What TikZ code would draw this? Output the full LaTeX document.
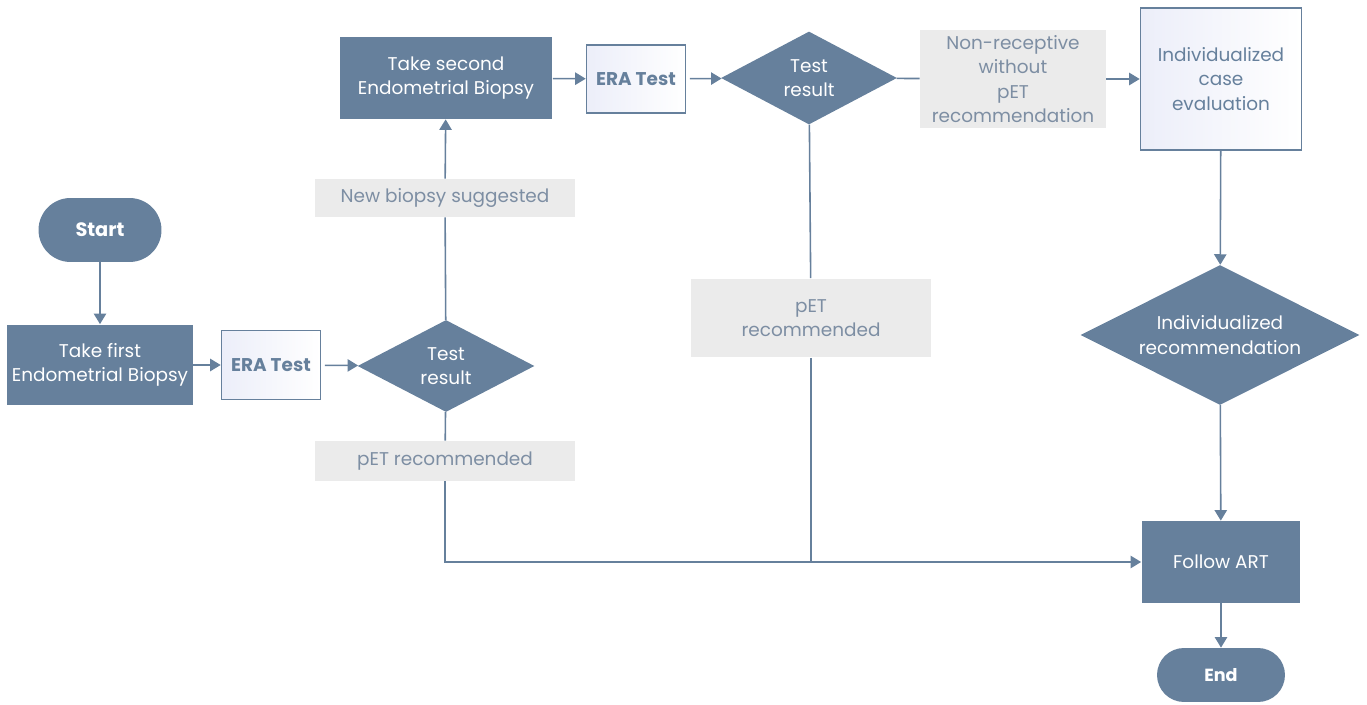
\documentclass[tikz,border=0pt]{standalone}
\usepackage{fontspec}
\setmainfont{Poppins}
\usetikzlibrary{shapes.geometric,arrows.meta}

\definecolor{steel}{RGB}{102,128,156}
\definecolor{panel}{RGB}{235,235,235}
\definecolor{paneltext}{RGB}{125,142,163}
\definecolor{haze}{RGB}{236,238,249}

\tikzset{
	darkbox/.style={rectangle,fill=steel,text=white,align=center,inner sep=0pt},
	lightbox/.style={rectangle,draw=steel,line width=0.9pt,shading=axis,shading angle=135,left color=haze,right color=white,text=steel,align=center,inner sep=0pt},
	greybox/.style={rectangle,fill=panel,text=paneltext,align=center,inner sep=0pt},
	decision/.style={diamond,aspect=2,fill=steel,text=white,align=center,inner sep=0pt},
	terminal/.style={rectangle,fill=steel,text=white,font=\bfseries,inner sep=0pt},
	flow/.style={draw=steel,line width=0.9pt},
	arrow/.style={flow,-{Triangle[width=7pt,length=6pt]}}
}

\begin{document}
\begin{tikzpicture}[x=0.02cm,y=-0.02cm,every node/.append style={font=\fontsize{10.5}{14}\selectfont}]
	\useasboundingbox (0,0) rectangle (1367,705);
	
	% first pass
	\node[terminal,rounded corners=0.64cm,minimum width=2.46cm,minimum height=1.28cm,font=\fontsize{11}{14}\selectfont\bfseries] (start) at (100,230) {Start};
	\node[darkbox,minimum width=3.72cm,minimum height=1.62cm] (first) at (100,365) {Take first\\Endometrial Biopsy};
	\node[lightbox,minimum width=1.98cm,minimum height=1.38cm,font=\fontsize{10.5}{14}\selectfont\bfseries] (era1) at (271,365) {ERA Test};
	\node[decision,minimum width=3.54cm,minimum height=1.84cm] (dec1) at (446,366) {Test\\result};
	\node[greybox,minimum width=5.2cm,minimum height=0.76cm] (newb) at (445,198) {New biopsy suggested};
	\node[greybox,minimum width=5.2cm,minimum height=0.8cm] (pet1) at (445,461) {pET recommended};
	
	% second pass
	\node[darkbox,minimum width=4.26cm,minimum height=1.64cm] (second) at (446,78) {Take second\\Endometrial Biopsy};
	\node[lightbox,minimum width=1.98cm,minimum height=1.36cm,font=\fontsize{10.5}{14}\selectfont\bfseries] (era2) at (636,79) {ERA Test};
	\node[decision,minimum width=3.52cm,minimum height=1.86cm] (dec2) at (809,78) {Test\\result};
	\node[greybox,minimum width=3.72cm,minimum height=1.96cm] (nonrec) at (1013,79) {Non-receptive\\without\\pET\\recommendation};
	\node[greybox,minimum width=4.82cm,minimum height=1.58cm] (pet2) at (811,318) {pET\\recommended};
	
	% right column
	\node[lightbox,minimum width=3.22cm,minimum height=2.84cm] (case) at (1221,79) {Individualized\\case\\evaluation};
	\node[decision,minimum width=5.58cm,minimum height=2.8cm] (dec3) at (1220,335) {Individualized\\recommendation};
	\node[darkbox,minimum width=3.18cm,minimum height=1.64cm] (follow) at (1221,562) {Follow ART};
	\node[terminal,rounded corners=0.54cm,minimum width=2.56cm,minimum height=1.08cm] (end) at (1221,675) {End};
	
	% connectors
	\draw[arrow] (start) -- (first);
	\draw[arrow] (first) -- (era1);
	\draw[arrow,shorten <=2pt] (era1) -- (dec1);
	\draw[flow] (dec1) -- (newb);
	\draw[arrow] (newb) -- (second);
	\draw[flow] (dec1) -- (pet1);
	\draw[arrow] (pet1.south) |- (follow.west);
	\draw[arrow] (second) -- (era2);
	\draw[arrow,shorten <=2pt] (era2) -- (dec2);
	\draw[flow] (dec2) -- (pet2);
	\draw[flow] (pet2.south) -- (pet2.south |- follow.west);
	\draw[flow] (dec2) -- (nonrec);
	\draw[arrow] (nonrec) -- (case);
	\draw[arrow] (case) -- (dec3);
	\draw[arrow] (dec3) -- (follow);
	\draw[arrow] (follow) -- (end);
\end{tikzpicture}
\end{document}
